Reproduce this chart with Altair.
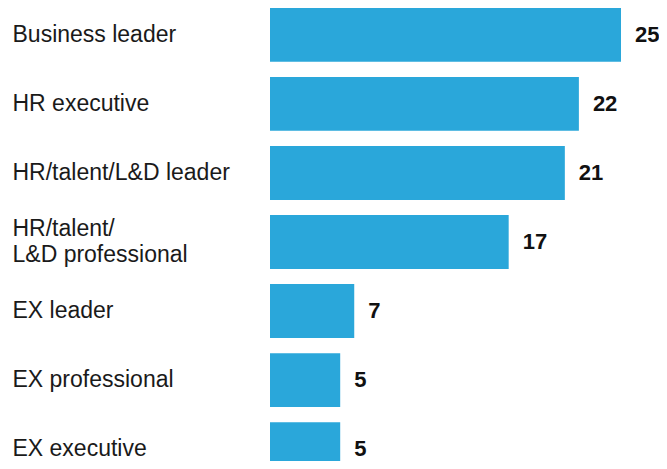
import altair as alt
import pandas as pd

categories = ["Business leader", "HR executive", "HR/talent/L&D leader",
              "HR/talent/|L&D professional", "EX leader", "EX professional", "EX executive"]
bar_values = [25, 22, 21, 17, 6, 5, 5]
value_labels = ["25", "22", "21", "17", "7", "5", "5"]

df = pd.DataFrame({"cat": categories, "val": bar_values, "lab": value_labels})

W = 389
H = 453
xmax = 25 * W / 351

y = alt.Y("cat:N", sort=categories,
          scale=alt.Scale(range=[0, 468], paddingInner=0.22, paddingOuter=0),
          axis=alt.Axis(title=None, domain=False, ticks=False, labelAlign="left",
                        labelPadding=258, labelFontSize=23, labelFont="Liberation Sans",
                        labelColor="#1a1a1a", labelLineHeight=26, labelBaseline="middle",
                        labelLimit=300,
                        labelOffset={"condition": {"test": "indexof(datum.label, '|') >= 0",
                                                   "value": -13}, "value": 0},
                        labelExpr="split(datum.label, '|')"))
x = alt.X("val:Q", scale=alt.Scale(domain=[0, xmax], nice=False), axis=None)

bars = alt.Chart(df).mark_bar(color="#2aa7da").encode(x=x, y=y)
text = alt.Chart(df).mark_text(align="left", baseline="middle", dx=14, fontSize=22,
                               fontWeight="bold", font="Liberation Sans",
                               color="#111111").encode(x=x, y=y, text="lab:N")

chart = (bars + text).properties(
    width=W, height=H, autosize="none",
    padding={"left": 262, "top": 0, "right": 0, "bottom": 0}
).configure_view(stroke=None)

chart.save("out.html", embed_options={"renderer": "svg", "actions": False})
